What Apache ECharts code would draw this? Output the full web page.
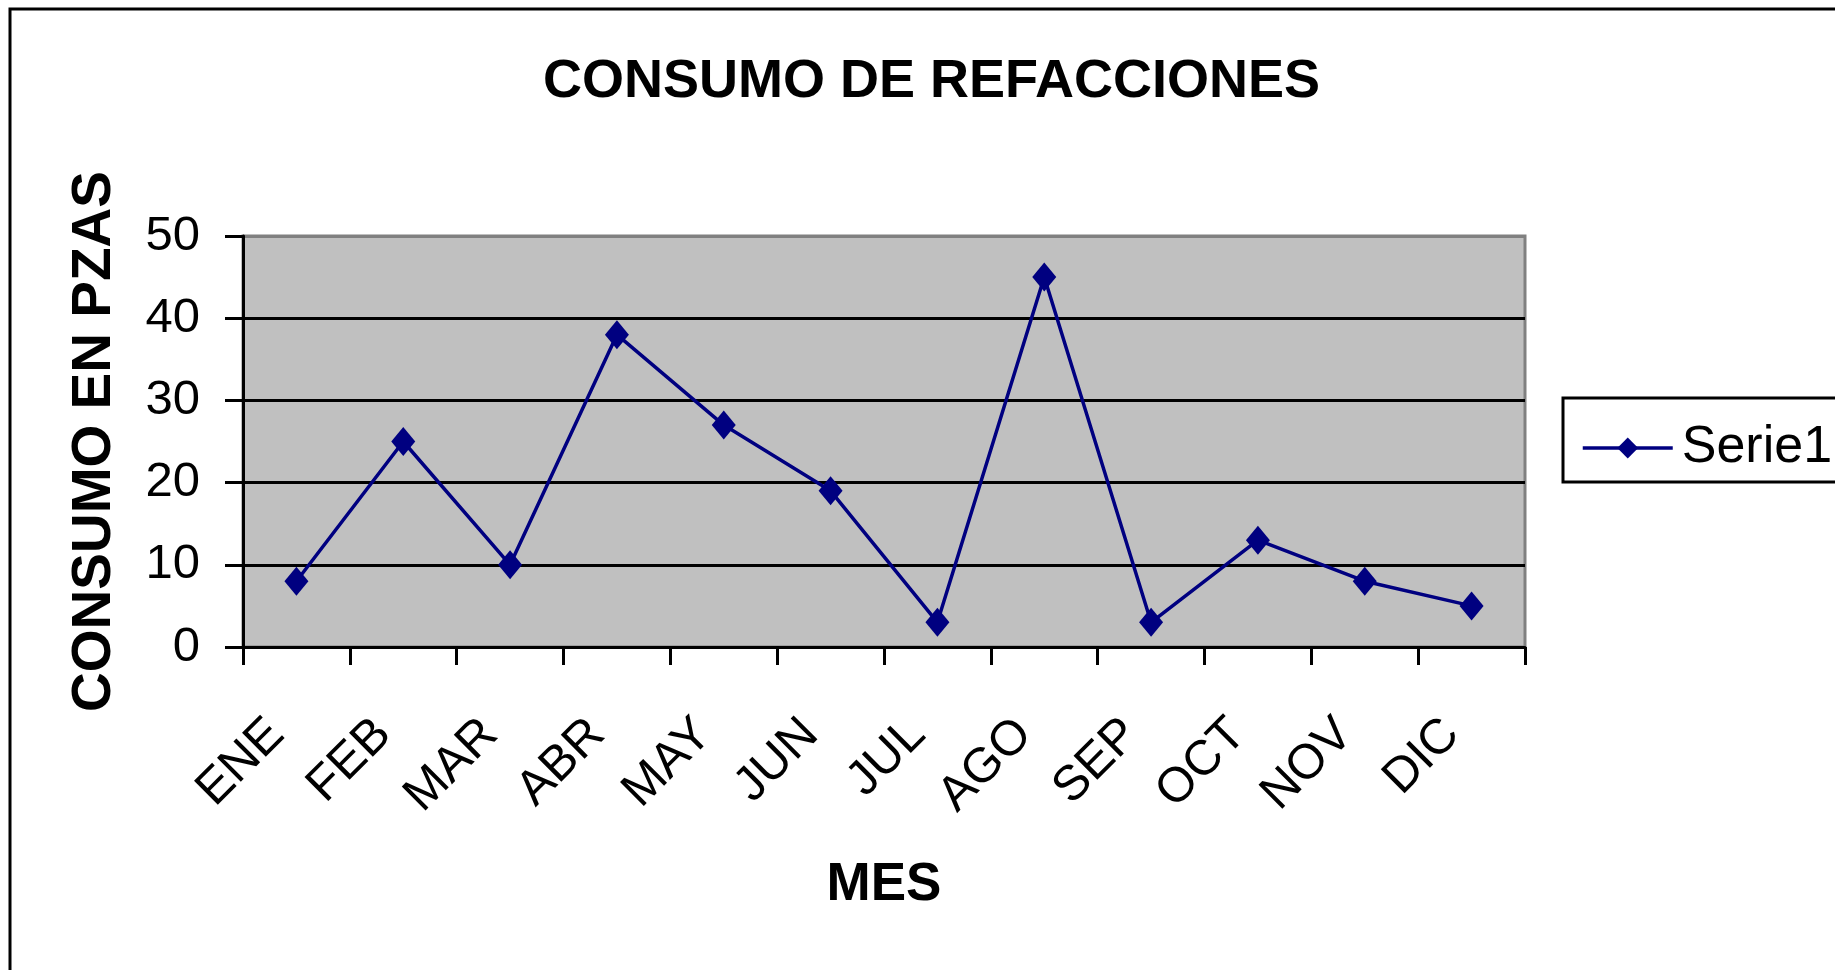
<!DOCTYPE html>
<html lang="es">
<head>
    <meta charset="UTF-8">
    <title>Consumo de refacciones</title>
    <style>
        * { box-sizing: border-box; margin: 0; padding: 0; }
        body { background: #fff; }
        #chart { width: 1835px; height: 970px; }
    </style>
    <script src="https://cdn.jsdelivr.net/npm/echarts@6/dist/echarts.min.js"></script>
</head>
<body>
    <div id="chart"></div>

    <script>
        // datos del grafico
        const meses = ['ENE', 'FEB', 'MAR', 'ABR', 'MAY', 'JUN', 'JUL', 'AGO', 'SEP', 'OCT', 'NOV', 'DIC'];
        const serie1 = [8, 25, 10, 38, 27, 19, 3, 45, 3, 13, 8, 5];
        const ejeY = { min: 0, max: 50, interval: 10 };

        const fuente = '"Liberation Sans", Arial, sans-serif';
        const chart = echarts.init(document.getElementById('chart'));

        chart.setOption({
            animation: false,
            textStyle: { fontFamily: fuente, color: '#000' },
            title: {
                text: 'CONSUMO DE REFACCIONES',
                left: 543,
                top: 55,
                padding: 0,
                textStyle: { fontFamily: fuente, fontSize: 54, fontWeight: 'bold', color: '#000' }
            },
            legend: {
                left: 1563,
                top: 398,
                padding: [24, 60, 8, 18],
                borderColor: '#000',
                borderWidth: 3,
                itemWidth: 90,
                itemHeight: 26,
                itemGap: 16,
                lineStyle: { width: 3.5 },
                textStyle: { fontFamily: fuente, fontSize: 52, color: '#000', padding: [0, 0, 0, 4] },
                data: ['Serie1']
            },
            grid: { left: 243, top: 236, right: 310, bottom: 323, show: true, backgroundColor: '#c0c0c0', borderColor: '#808080', borderWidth: 3 },
            xAxis: {
                type: 'category',
                data: meses,
                boundaryGap: true,
                name: 'MES',
                nameLocation: 'middle',
                nameGap: 212,
                nameTextStyle: { fontFamily: fuente, fontSize: 53, fontWeight: 'bold', color: '#000' },
                axisLine: { lineStyle: { color: '#000', width: 3 } },
                axisTick: { show: true, interval: 0, length: 18, lineStyle: { color: '#000', width: 3 } },
                axisLabel: { interval: 0, rotate: 45, margin: 60, padding: [0, 28, 0, 0], fontSize: 49, color: '#000', fontFamily: fuente }
            },
            yAxis: {
                type: 'value',
                min: ejeY.min,
                max: ejeY.max,
                interval: ejeY.interval,
                name: 'CONSUMO EN PZAS',
                nameLocation: 'middle',
                nameGap: 121,
                nameTextStyle: { fontFamily: fuente, fontSize: 55, fontWeight: 'bold', color: '#000' },
                axisLine: { show: true, lineStyle: { color: '#000', width: 3 } },
                axisTick: { show: true, length: 18, lineStyle: { color: '#000', width: 3 } },
                axisLabel: { margin: 43, fontSize: 49, color: '#000', fontFamily: fuente },
                splitLine: { show: true, lineStyle: { color: ['#000', '#000', '#000', '#000', '#000', '#808080'], width: 3 } }
            },
            series: [{
                name: 'Serie1',
                type: 'line',
                data: serie1,
                symbol: 'diamond',
                symbolSize: [24, 29],
                itemStyle: { color: '#000080' },
                lineStyle: { color: '#000080', width: 3.5 }
            }],
            graphic: [{
                type: 'rect',
                shape: { x: 10, y: 9, width: 1900, height: 1000 },
                style: { fill: null, stroke: '#000', lineWidth: 3 },
                silent: true
            }]
        });
    </script>
</body>
</html>
